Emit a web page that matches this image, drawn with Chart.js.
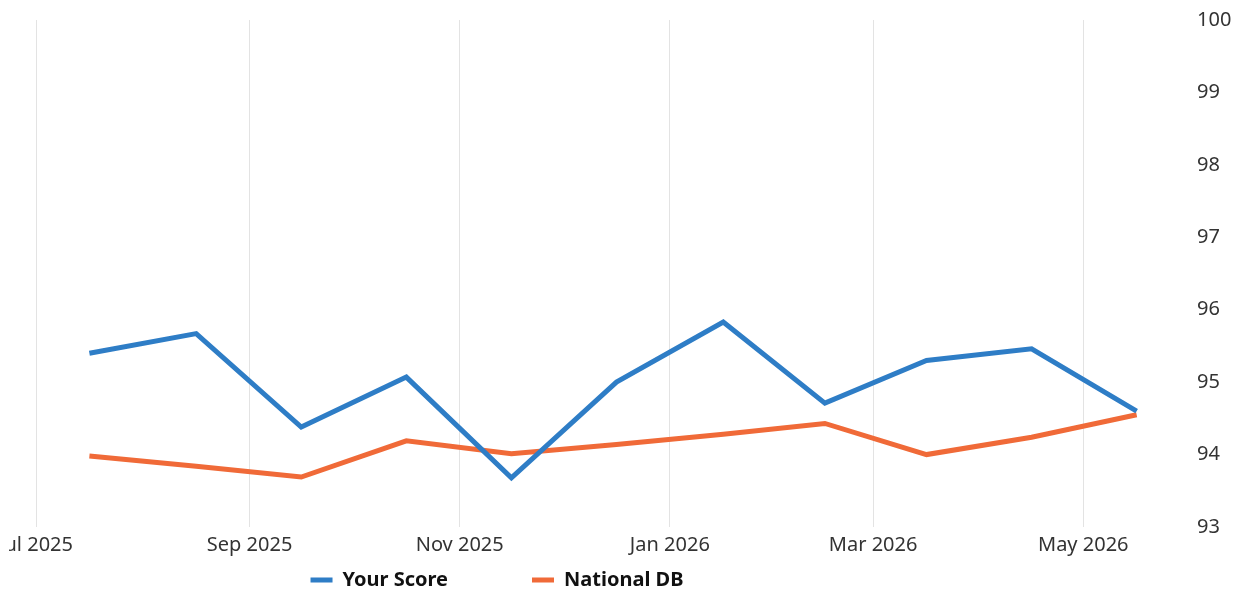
<!DOCTYPE html>
<html>
<head>
<meta charset="utf-8">
<script src="https://cdn.jsdelivr.net/npm/chart.js@4"></script>
<style>
html, body { margin: 0; padding: 0; background: #ffffff; }
#wrap { width: 1243px; height: 598px; position: relative; }
</style>
</head>
<body>
<div id="wrap"><canvas id="c" width="1243" height="598"></canvas></div>
<script>
// ---- data ----
const pointDates = ['2025-07-16T12:00:00Z', '2025-08-16T12:00:00Z', '2025-09-16T00:00:00Z', '2025-10-16T12:00:00Z',
                    '2025-11-16T00:00:00Z', '2025-12-16T12:00:00Z', '2026-01-16T12:00:00Z', '2026-02-15T00:00:00Z',
                    '2026-03-16T12:00:00Z', '2026-04-16T00:00:00Z', '2026-05-16T12:00:00Z'];
const yourScore  = [95.40, 95.67, 94.38, 95.07, 93.68, 95.00, 95.83, 94.71, 95.30, 95.46, 94.60];
const nationalDB = [93.98, 93.84, 93.69, 94.19, 94.01, 94.14, 94.28, 94.43, 94.00, 94.24, 94.55];
const seriesNames = ['Your Score', 'National DB'];
const tickDates  = ['2025-07-01T00:00:00Z', '2025-09-01T00:00:00Z', '2025-11-01T00:00:00Z',
                    '2026-01-01T00:00:00Z', '2026-03-01T00:00:00Z', '2026-05-01T00:00:00Z'];
const tickLabels = ['Jul 2025', 'Sep 2025', 'Nov 2025', 'Jan 2026', 'Mar 2026', 'May 2026'];
const yMin = 93, yMax = 100, yStep = 1;

// ---- view settings ----
const X_MIN = Date.parse('2025-06-20T13:10:00Z');
const X_MAX = Date.parse('2026-05-29T02:00:00Z');
const FONT = '"Noto Sans", "Open Sans", sans-serif';

const toPoints = vals => vals.map((v, i) => ({ x: Date.parse(pointDates[i]), y: v }));
const tickValues = tickDates.map(d => Date.parse(d));

const legendPlacement = {
  id: 'legendPlacement',
  beforeDraw(chart, args, opts) {
    const lg = chart.legend;
    if (!lg || !lg.legendHitBoxes || !lg.legendHitBoxes.length) return;
    const labels = lg.options.labels;
    const ws = lg.legendHitBoxes.map(h => h.width);
    const total = ws.reduce((a, b) => a + b, 0) + opts.gap * (ws.length - 1);
    lg._saved = { padding: labels.padding, left: lg.left, right: lg.right, top: lg.top };
    labels.padding = opts.gap;
    lg.left = opts.centerX - total / 2 - opts.gap;
    lg.right = lg.left + total + 2 * opts.gap + 20;
    lg.top = opts.itemTop - opts.gap;
  },
  afterDraw(chart, args, opts) {
    const lg = chart.legend;
    if (lg && lg._saved) {
      lg.options.labels.padding = lg._saved.padding;
      lg.left = lg._saved.left; lg.right = lg._saved.right; lg.top = lg._saved.top;
      delete lg._saved;
    }
    // the reference view is cut off a few pixels left of the first axis label
    const ca = chart.chartArea;
    chart.ctx.clearRect(0, ca.bottom + 1, opts.leftCut, 40);
  }
};

new Chart(document.getElementById('c'), {
  type: 'line',
  data: {
    datasets: [
      { label: seriesNames[0], data: toPoints(yourScore), borderColor: '#2E7DC6', backgroundColor: '#2E7DC6',
        borderWidth: 5, pointRadius: 0, tension: 0, fill: false },
      { label: seriesNames[1], data: toPoints(nationalDB), borderColor: '#F06A38', backgroundColor: '#F06A38',
        borderWidth: 5, pointRadius: 0, tension: 0, fill: false }
    ]
  },
  options: {
    responsive: false,
    animation: false,
    events: [],
    layout: { padding: { left: 0, right: 0, top: 20, bottom: 0 } },
    scales: {
      x: {
        type: 'linear',
        min: X_MIN, max: X_MAX,
        grid: { display: true, color: '#E3E3E3', lineWidth: 1, drawTicks: false },
        border: { display: false },
        afterBuildTicks: s => { s.ticks = tickValues.map(v => ({ value: v })); },
        afterFit: s => { s.paddingLeft = 0; s.paddingRight = 0; s.height = 32; },
        ticks: {
          autoSkip: false, maxRotation: 0, padding: 6,
          color: '#333333', font: { family: FONT, size: 20 },
          callback: (v) => { const i = tickValues.indexOf(v); return i >= 0 ? tickLabels[i] : ''; }
        }
      },
      y: {
        position: 'right',
        min: yMin, max: yMax,
        grid: { display: false, drawTicks: false },
        border: { display: false },
        afterFit: s => { s.width = 63; s.paddingTop = 0; s.paddingBottom = 0; },
        ticks: { stepSize: yStep, padding: 17, color: '#333333', font: { family: FONT, size: 20 } }
      }
    },
    plugins: {
      tooltip: { enabled: false },
      legend: {
        position: 'bottom',
        align: 'start',
        labels: {
          boxWidth: 22, boxHeight: 5, padding: 9, color: '#111111',
          font: { family: FONT, size: 20, weight: 'bold' },
          generateLabels: chart => Chart.defaults.plugins.legend.labels.generateLabels(chart)
            .map(l => Object.assign(l, { fillStyle: l.strokeStyle, lineWidth: 0 }))
        }
      },
      legendPlacement: { gap: 84, centerX: 497, itemTop: 570, leftCut: 9 }
    }
  },
  plugins: [legendPlacement]
});
</script>
</body>
</html>
